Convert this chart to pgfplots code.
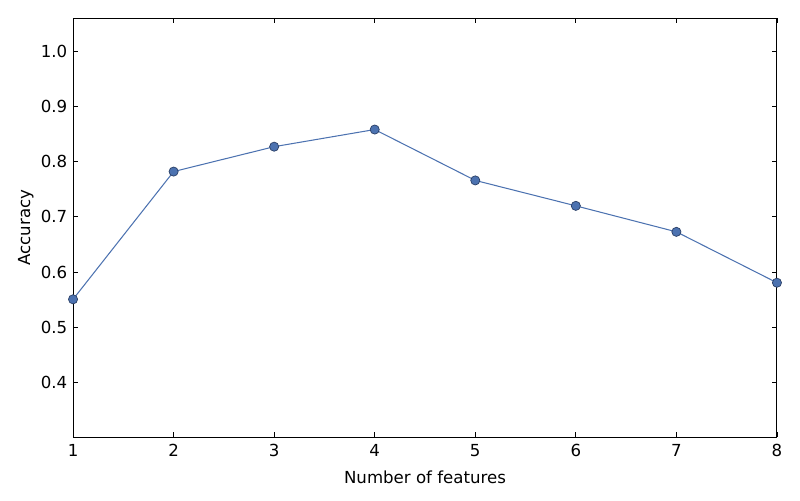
\documentclass[border=0pt]{standalone}
\usepackage{fontspec}
\setmainfont{DejaVu Sans}
\usepackage{pgfplots}
\pgfplotsset{compat=1.18}
\definecolor{deepblue}{HTML}{4C72B0}
\definecolor{edgeblue}{HTML}{2A3F66}
\begin{document}
\fontsize{12}{14}\selectfont
\begin{tikzpicture}
  \begin{axis}[
    scale only axis,
    width=506.9bp,
    height=301.7bp,
    xmin=1, xmax=8,
    ymin=0.302, ymax=1.0596,
    xtick={1,...,8},
    ytick={0.4,0.5,0.6,0.7,0.8,0.9,1.0},
    yticklabel style={/pgf/number format/.cd,fixed,fixed zerofill,precision=1},
    xticklabel style={yshift=-1bp},
    /pgf/number format/assume math mode=true,
    tick align=inside,
    major tick length=3.5bp,
    xtick pos=both, ytick pos=both,
    xlabel={Number of features},
    ylabel={Accuracy},
    xlabel style={yshift=-2bp},
    ylabel style={yshift=-3bp},
    axis line style={line width=0.7bp},
    tick style={line width=0.6bp,black},
    clip=false,
  ]
  \addplot[
    color=deepblue, line width=0.75bp,
    mark=*, mark size=3.3bp,
    mark options={fill=deepblue, draw=edgeblue, line width=0.5bp},
  ] coordinates {
    (1,0.551)
    (2,0.782)
    (3,0.827)
    (4,0.858)
    (5,0.766)
    (6,0.720)
    (7,0.673)
    (8,0.581)
  };
  \coordinate (sw) at (rel axis cs:0,0);
  \coordinate (ne) at (rel axis cs:1,1);
  \end{axis}
  \useasboundingbox ([shift={(-52.6bp,-45.4bp)}]sw) rectangle ([shift={(16.6bp,13bp)}]ne);
\end{tikzpicture}
\end{document}
